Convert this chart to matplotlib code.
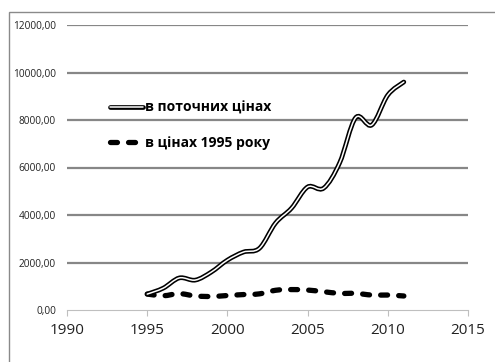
import numpy as np
import matplotlib
matplotlib.use("Agg")
import matplotlib.pyplot as plt
from matplotlib.path import Path
from matplotlib.patches import PathPatch, Rectangle
from matplotlib.lines import Line2D

plt.rcParams['font.family'] = ['Open Sans', 'DejaVu Sans']
plt.rcParams['lines.scale_dashes'] = False

# ВВП на душу населення, дол. США
years = [1995, 1996, 1997, 1998, 1999, 2000, 2001, 2002, 2003,
         2004, 2005, 2006, 2007, 2008, 2009, 2010, 2011]
current_prices = [670, 920, 1350, 1260, 1600, 2100, 2440, 2600, 3660,
                  4290, 5180, 5130, 6200, 8100, 7790, 9050, 9600]
prices_1995 = [670, 600, 690, 590, 570, 610, 650, 680, 830,
               860, 840, 770, 700, 700, 630, 630, 590]

label_current = 'в поточних цінах'
label_1995 = 'в цінах 1995 року'

y_ticks = [0, 2000, 4000, 6000, 8000, 10000, 12000]
x_ticks = [1990, 1995, 2000, 2005, 2010, 2015]


def smooth_path(xs, ys):
    # cubic bezier segments through every point (Excel-style smoothed line)
    xs = np.asarray(xs, float)
    ys = np.asarray(ys, float)
    n = len(xs)
    verts = [(xs[0], ys[0])]
    codes = [Path.MOVETO]
    for i in range(n - 1):
        i0 = max(i - 1, 0)
        i3 = min(i + 2, n - 1)
        c1 = (xs[i] + (xs[i + 1] - xs[i0]) / 6, ys[i] + (ys[i + 1] - ys[i0]) / 6)
        c2 = (xs[i + 1] - (xs[i3] - xs[i]) / 6, ys[i + 1] - (ys[i3] - ys[i]) / 6)
        verts += [c1, c2, (xs[i + 1], ys[i + 1])]
        codes += [Path.CURVE4] * 3
    return Path(verts, codes)


fig = plt.figure(figsize=(4.95, 3.62), dpi=100)
ax = fig.add_axes([67 / 495, 1 - 310 / 362, 401 / 495, 285 / 362])

fig.patches.append(Rectangle((9 / 495, -0.1), 1.2, 0.967 + 0.1, transform=fig.transFigure,
                             fill=False, ec='#8a8a8a', lw=1.0))

for v in y_ticks[1:]:
    ax.axhline(v, color='#878787', lw=1.6, zorder=1)

# current prices: black outline with a white core
p = smooth_path(years, current_prices)
ax.add_patch(PathPatch(p, fill=False, ec='black', lw=3.4, capstyle='round', zorder=3))
ax.add_patch(PathPatch(p, fill=False, ec='white', lw=1.1, capstyle='round', zorder=4))

# constant 1995 prices: thick dashed
p2 = smooth_path(years, prices_1995)
ax.add_patch(PathPatch(p2, fill=False, ec='black', lw=3.8, capstyle='round',
                       linestyle=(0, (5, 8)), zorder=3))

ax.set_xlim(1990, 2015)
ax.set_ylim(0, 12000)
ax.set_xticks(x_ticks)
ax.set_yticks(y_ticks)
ax.set_yticklabels([f'{v},00' for v in y_ticks], fontsize=7.3, color='#222222')
ax.set_xticklabels([str(v) for v in x_ticks], fontsize=11, color='#222222')
ax.tick_params(axis='y', length=0, pad=8)
ax.tick_params(axis='x', length=4.5, width=0.8, color='#bfbfbf', pad=5)

for s in ['top', 'right', 'left']:
    ax.spines[s].set_visible(False)
ax.spines['bottom'].set_color('#bfbfbf')
ax.spines['bottom'].set_linewidth(0.8)
ax.spines['bottom'].set_zorder(5)

h1 = (Line2D([], [], color='black', lw=3.4, solid_capstyle='round'),
      Line2D([], [], color='white', lw=1.1, solid_capstyle='round'))
h2 = Line2D([], [], color='black', lw=3.8, linestyle=(0, (5, 8)), dash_capstyle='round')
ax.legend([h1, h2], [label_current, label_1995], loc='upper left',
          bbox_to_anchor=(0.107, 0.735), frameon=False, borderpad=0, borderaxespad=0,
          handlelength=2.4, handletextpad=0.15, labelspacing=1.55,
          prop={'weight': 'bold', 'size': 10})

fig.savefig('out.png', dpi=100)
